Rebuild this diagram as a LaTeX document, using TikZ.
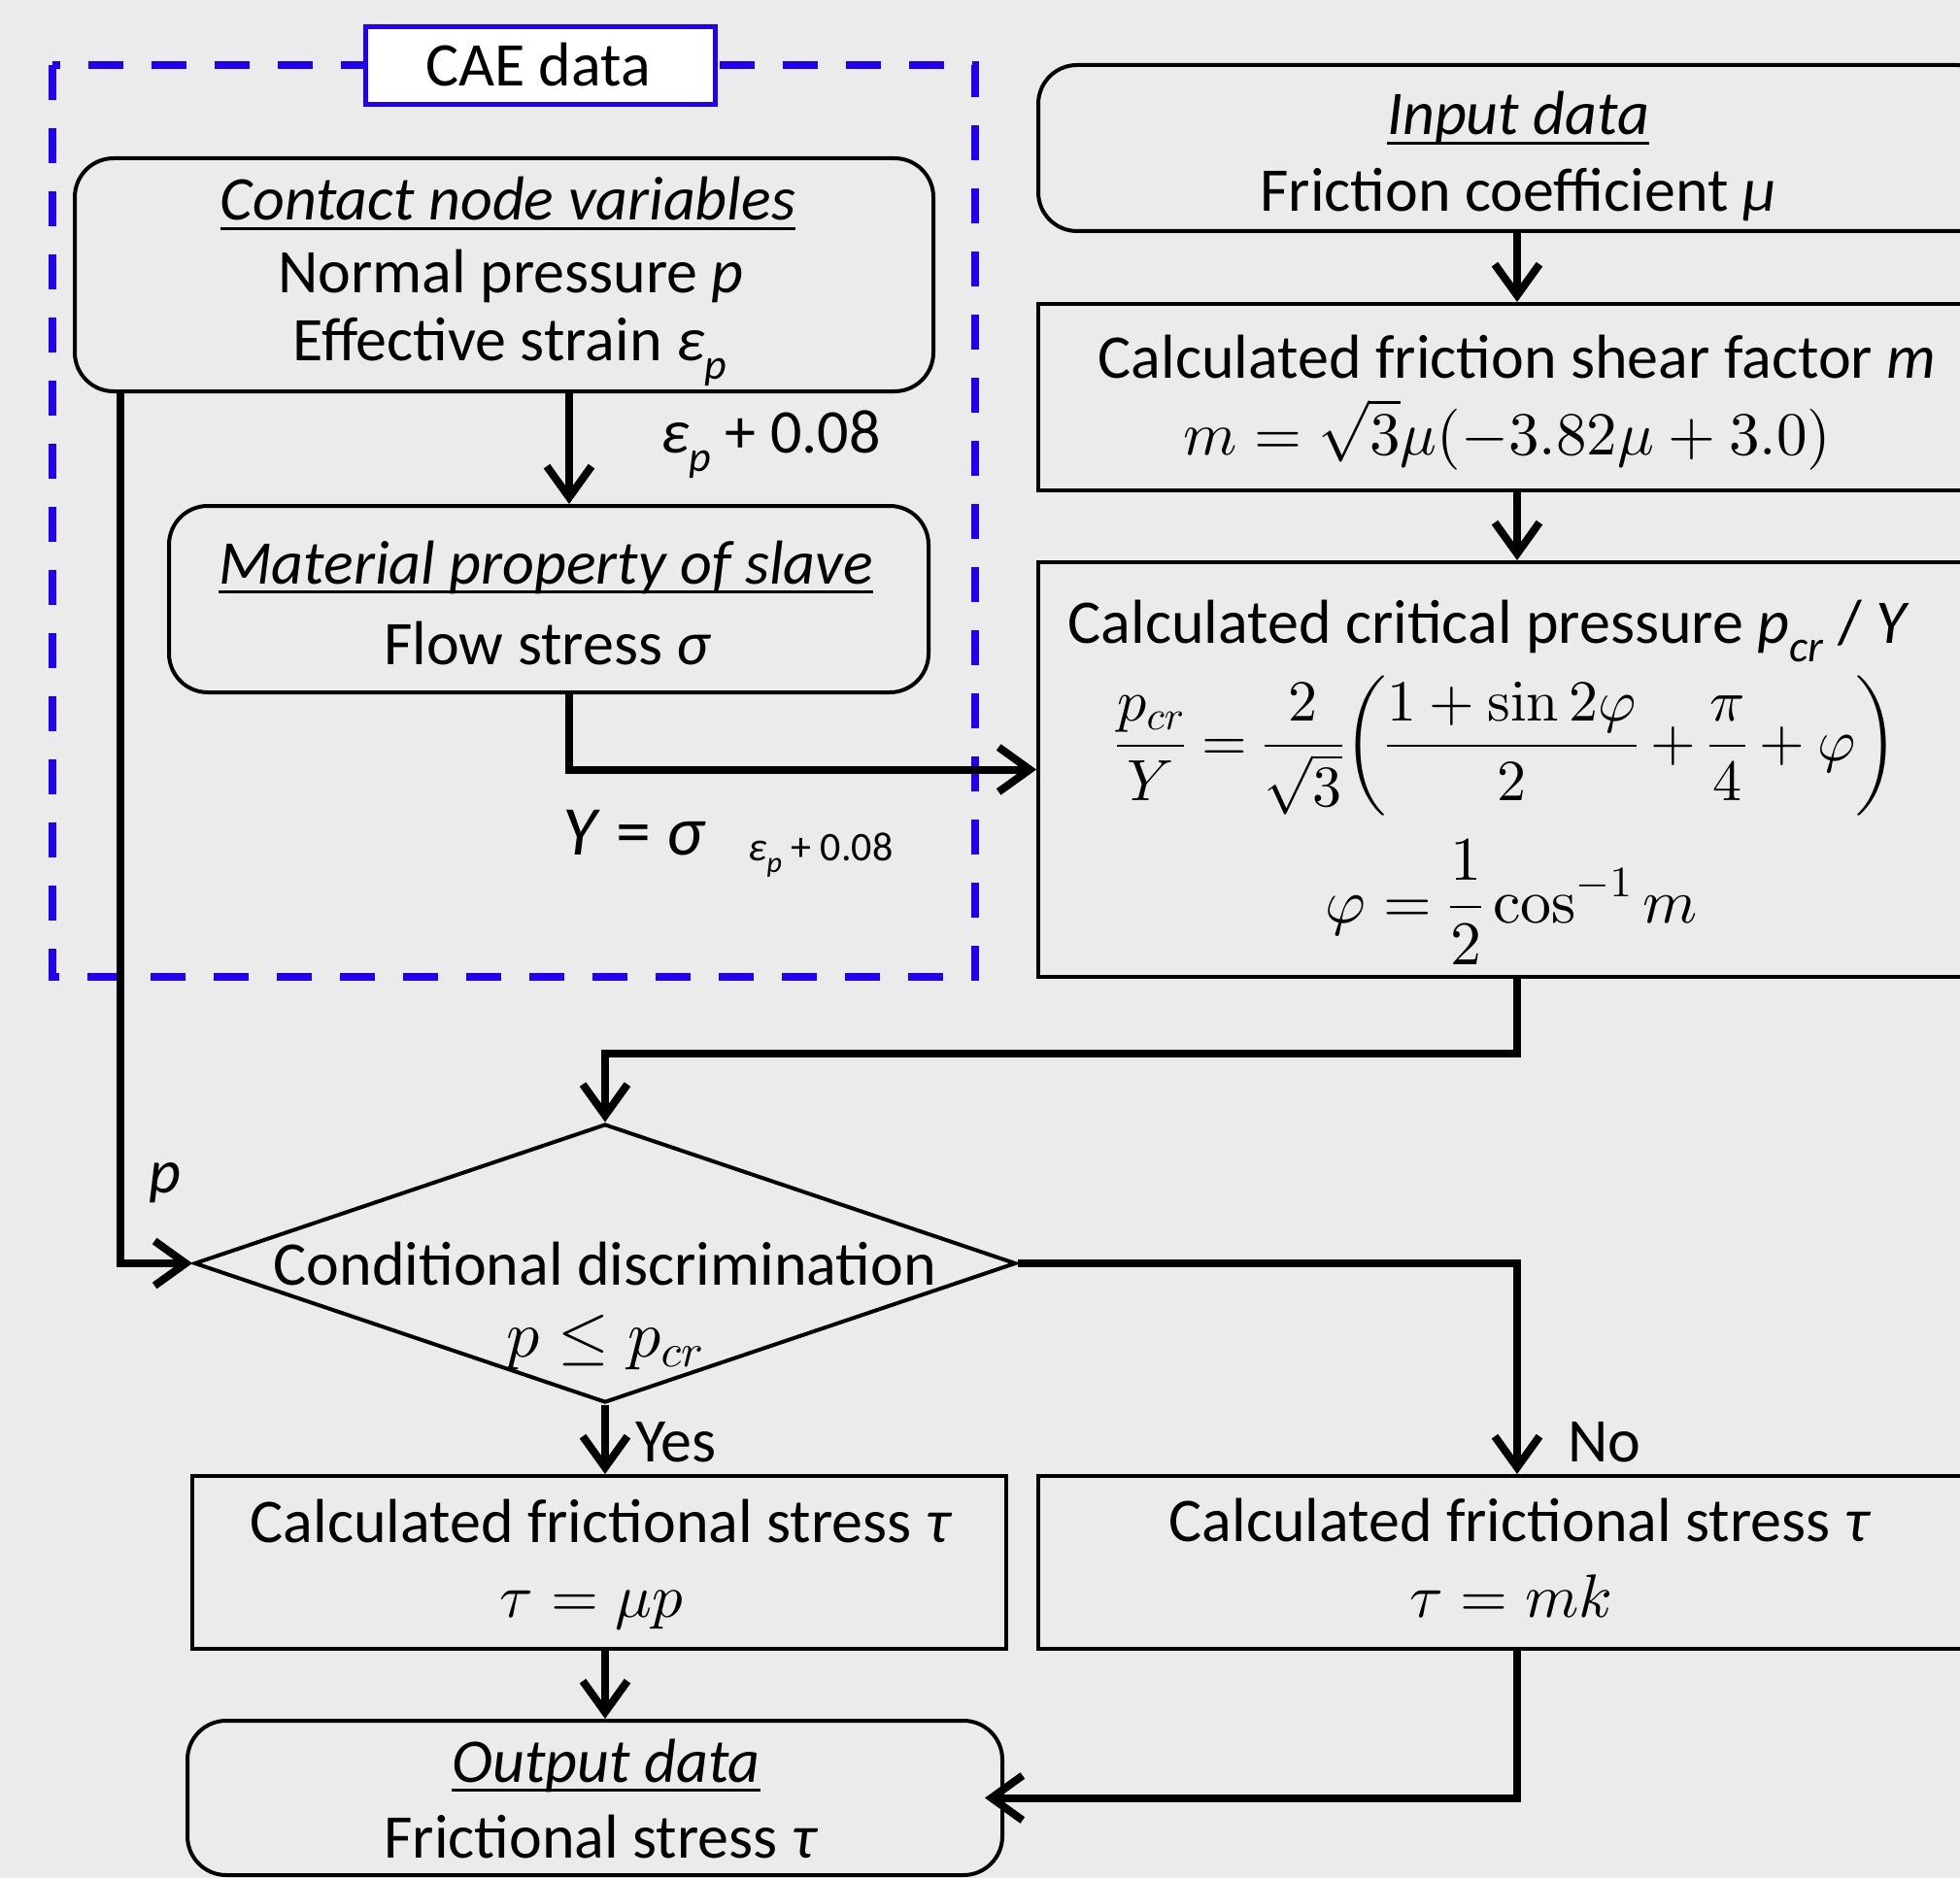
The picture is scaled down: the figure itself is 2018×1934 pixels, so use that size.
\documentclass[tikz,border=0pt]{standalone}
\usepackage{amsmath}
\usepackage[no-math]{fontspec}
\setmainfont{Carlito}
\DeclareFontFamily{OT1}{mycmr}{\hyphenchar\font=-1}
\DeclareFontShape{OT1}{mycmr}{m}{n}{<->cmr10}{}
\DeclareFontFamily{OML}{mycmm}{\skewchar\font=127}
\DeclareFontShape{OML}{mycmm}{m}{it}{<->cmmi10}{}
\DeclareFontFamily{OMS}{mycmsy}{\skewchar\font=48}
\DeclareFontShape{OMS}{mycmsy}{m}{n}{<->cmsy10}{}
\DeclareFontFamily{OMX}{mycmex}{}
\DeclareFontShape{OMX}{mycmex}{m}{n}{<->cmex10}{}
\SetSymbolFont{operators}{normal}{OT1}{mycmr}{m}{n}
\SetSymbolFont{letters}{normal}{OML}{mycmm}{m}{it}
\SetSymbolFont{symbols}{normal}{OMS}{mycmsy}{m}{n}
\SetSymbolFont{largesymbols}{normal}{OMX}{mycmex}{m}{n}
\usetikzlibrary{arrows.meta,shapes.geometric}
\definecolor{bgc}{RGB}{235,235,235}
\definecolor{cblue}{RGB}{32,0,238}
\newcommand{\myul}[1]{\setbox0\hbox{#1}\rlap{\rule[-0.16em]{\wd0}{0.05em}}\box0}
\newcommand{\mysub}[2][44]{\raisebox{-0.3em}{\fontsize{#1}{#1}\selectfont\textit{#2}}}
\newcommand{\mainfs}{\fontsize{64}{76}\selectfont}
\newcommand{\mathfs}{\fontsize{63}{75}\selectfont}
\tikzset{
  boxr/.style={draw=black, line width=4pt, inner sep=0pt, rectangle},
  boxround/.style={boxr, rounded corners=40pt},
  txt/.style={inner sep=0pt, anchor=base, font=\mainfs},
  mtxt/.style={inner sep=0pt, anchor=base, font=\mathfs},
  conn/.style={line width=8pt, -{Straight Barb[length=32pt,width=46pt]}},
}
\begin{document}
\begin{tikzpicture}[x=1pt,y=-1pt]
\clip (0,0) rectangle (2018,1934);
\fill[bgc] (0,0) rectangle (2018,1934);

% CAE dashed region
\draw[cblue, line width=8pt, dash pattern=on 36pt off 29pt] (54,67) rectangle (1004,1006);
\node[draw=cblue, fill=white, line width=5pt, inner sep=0pt, minimum width=360pt, minimum height=80pt] (cae) at (556,68) {};
\node[txt] (caet) at (554,89) {CAE data};

% boxes
\node[boxround, minimum width=884pt, minimum height=240pt] (contact) at (519,283) {};
\node[boxround, minimum width=782pt, minimum height=192pt] (material) at (565,617) {};
\node[boxround, minimum width=986pt, minimum height=171pt] (input) at (1562,152.5) {};
\node[boxr, minimum width=986pt, minimum height=192pt] (shear) at (1562,409) {};
\node[boxr, minimum width=986pt, minimum height=427pt] (crit) at (1562,792.5) {};
\node[draw=black, line width=4pt, diamond, aspect=2.95, inner sep=0pt, minimum width=846pt, minimum height=287pt] (dia) at (623,1301) {};
\node[boxr, minimum width=838pt, minimum height=178pt] (yes) at (617,1609) {};
\node[boxr, minimum width=986pt, minimum height=178pt] (no) at (1562,1609) {};
\node[boxround, minimum width=839pt, minimum height=159pt] (out) at (612.5,1851.5) {};

% texts
\node[txt] (ct1) at (523,227) {\myul{\itshape Contact node variables}};
\node[txt] (ct2) at (526,302) {Normal pressure \textit{p}};
\node[txt] (ct3) at (525,371) {Effective strain \textit{ε}\mysub{p}};
\node[txt] (mt1) at (562,601) {\myul{\itshape Material property of slave}};
\node[txt] (mt2) at (564,684) {Flow stress \textit{σ}};
\node[txt] (it1) at (1563,139) {\myul{\itshape Input data}};
\node[txt] (it2) at (1563,218) {Friction coefficient \textit{μ}};
\node[txt] (st1) at (1562,389) {Calculated friction shear factor \textit{m}};
\node[mtxt] (st2) at (1552,468) {$m=\sqrt{3}\mu(-3.82\mu+3.0)$};
\node[txt] (crt1) at (1533,662) {Calculated critical pressure \textit{p}\mysub[46]{cr} / \textit{Y}};
\node[mtxt, font=\fontsize{60}{72}\selectfont] (crt2) at (1552,783) {$\displaystyle\frac{p_{cr}}{Y}=\frac{2}{\sqrt{3}}\bigg(\frac{1+\sin 2\varphi}{2}+\frac{\pi}{4}+\varphi\bigg)$};
\node[mtxt, font=\fontsize{64}{76}\selectfont] (crt3) at (1556,950) {$\displaystyle\varphi=\frac{1}{2}\cos^{-1}m$};
\node[txt] (dt1) at (623,1323) {Conditional discrimination};
\node[mtxt, font=\fontsize{68}{80}\selectfont] (dt2) at (623,1397) {$p\le p_{cr}$};
\node[txt] (yt1) at (619,1588) {Calculated frictional stress \textit{τ}};
\node[mtxt] (yt2) at (609,1665) {$\tau=\mu p$};
\node[txt] (nt1) at (1565,1587) {Calculated frictional stress \textit{τ}};
\node[mtxt] (nt2) at (1556,1665) {$\tau=mk$};
\node[txt] (ot1) at (624,1835) {\myul{\itshape Output data}};
\node[txt] (ot2) at (619,1913) {Frictional stress \textit{τ}};

% labels
\node[txt, anchor=base west] (lab1) at (680,466) {\textit{ε}\mysub{p} + 0.08};
\node[txt, anchor=base west, font=\fontsize{72}{80}\selectfont] (lab2) at (579,880) {\textit{Y} = \textit{σ}};
\node[txt, anchor=base west, font=\fontsize{42}{50}\selectfont] (lab3) at (770,886) {\textit{ε}\mysub[30]{p} + 0.08};
\node[txt, anchor=base west] (lab4) at (153,1228) {\textit{p}};
\node[txt, anchor=base west] (lab5) at (654,1505) {Yes};
\node[txt, anchor=base west] (lab6) at (1614,1505) {No};

% connectors
\coordinate (cx1) at (586,0);
\coordinate (cx2) at (124,0);
\draw[conn] (contact.south -| cx1) -- (material.north -| cx1);
\draw[conn] (material.south -| cx1) |- (crit.west);
\draw[conn] (contact.south -| cx2) |- (dia.west);
\draw[conn] (input.south) -- (shear.north);
\draw[conn] (shear.south) -- (crit.north);
\draw[conn] (crit.south) -- ++(0,77) -| (dia.north);
\draw[conn] (dia.east) -| (no.north);
\draw[conn] (dia.south) -- (yes.north -| dia.south);
\draw[conn] (yes.south -| dia.south) -- (out.north -| dia.south);
\draw[conn, shorten >=-20pt] (no.south) |- (out.east);
\end{tikzpicture}
\end{document}
